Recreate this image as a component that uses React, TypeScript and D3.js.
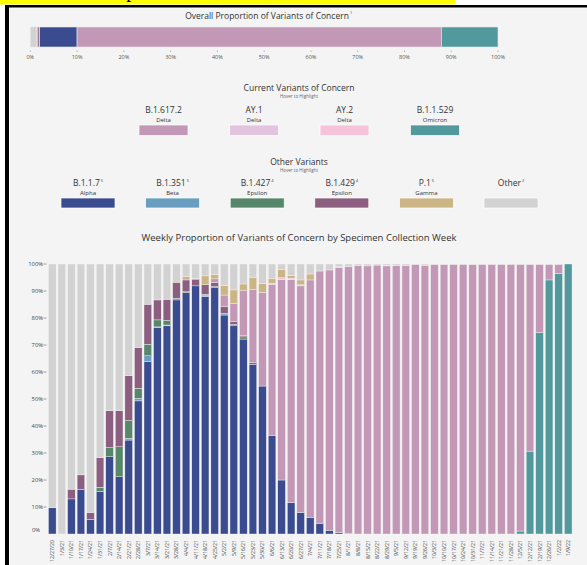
import React, { useEffect } from 'react'
import * as d3 from 'd3'

// weekly specimen collection weeks
const weeks = [
  '12/27/20', '1/3/21', '1/10/21', '1/17/21', '1/24/21', '1/31/21', '2/7/21', '2/14/21', '2/21/21', '2/28/21',
  '3/7/21', '3/14/21', '3/21/21', '3/28/21', '4/4/21', '4/11/21', '4/18/21', '4/25/21', '5/2/21', '5/9/21',
  '5/16/21', '5/23/21', '5/30/21', '6/6/21', '6/13/21', '6/20/21', '6/27/21', '7/4/21', '7/11/21', '7/18/21',
  '7/25/21', '8/1/21', '8/8/21', '8/15/21', '8/22/21', '8/29/21', '9/5/21', '9/12/21', '9/19/21', '9/26/21',
  '10/3/21', '10/10/21', '10/17/21', '10/24/21', '10/31/21', '11/7/21', '11/14/21', '11/21/21', '11/28/21', '12/5/21',
  '12/12/21', '12/19/21', '12/26/21', '1/2/22', '1/9/22'
]

const pad = (arr: number[]) => arr.concat(new Array(weeks.length - arr.length).fill(0))

const omicron = [
  0, 0, 0, 0, 0, 0, 0, 0, 0, 0, 0, 0, 0, 0, 0, 0, 0, 0, 0, 0,
  0, 0, 0, 0, 0, 0, 0, 0, 0, 0, 0, 0, 0, 0, 0, 0, 0, 0, 0, 0,
  0, 0, 0, 0, 0, 0, 0, 0, 0, 1.1, 30.7, 74.6, 94.1, 96.5, 100
]
const alpha = pad([
  9.7, 0, 13, 16.6, 5.4, 15.7, 28.6, 21.2, 34.8, 49.3, 63.8, 76.4, 77.1, 86.7, 89.4, 91.9, 87.9, 91.2, 81.1, 77.1,
  72.2, 62.8, 54.8, 36.4, 20, 11.6, 8, 6.2, 4, 1.4, 0.5, 0.2
])
const beta = pad([0, 0, 0, 0, 0, 0, 0, 0, 0.6, 0.9, 2.2, 0.3, 0.3, 0, 0, 0, 0.4, 0, 0.6])
const eps427 = pad([0, 0, 0, 0, 0, 1.6, 3.4, 11.1, 6.6, 3.8, 4.3, 2.6, 1.7, 0.6, 0.3, 0, 0.5, 0.4, 0, 0.5, 0.8])
const eps429 = pad([0, 0, 3.6, 5.3, 2.6, 11, 13.7, 13.4, 16.6, 15.1, 14.8, 7.4, 7.8, 5.8, 4.4, 2.5, 3.5, 1.6, 2.5, 1.0, 0.4, 0.8])
const delta = [
  0, 0, 0, 0, 0, 0, 0, 0, 0, 0, 0, 0, 0, 0, 0, 0, 0, 1.3, 4.3, 6.8,
  16.7, 27, 34.7, 56.1, 74.3, 82.7, 83.9, 87.9, 93.4, 96.4, 98.1, 98.8, 99.4, 99.3, 99.6, 99.3, 99.4, 99.4, 99.9, 99.5,
  99.8, 99.8, 99.9, 99.9, 99.8, 99.9, 99.9, 99.9, 99.9, 98.8, 69.2, 25.3, 5.8, 3.4, 0
]
const ay1 = pad([])
const ay2 = pad([
  0, 0, 0, 0, 0, 0, 0, 0, 0, 0, 0, 0, 0, 0, 0, 0, 0, 0, 0, 0,
  0, 0, 0, 0.3, 0.6, 0.4, 0.4, 0, 0, 0, 0.4, 0, 0, 0, 0, 0.2
])
const gamma = pad([
  0, 0, 0, 0, 0, 0, 0, 0, 0, 0, 0, 0, 0, 0.6, 1.2, 0.3, 3.3, 1.5, 3.5, 5.0,
  2.5, 4.3, 3.3, 1.9, 3.1, 1.0, 1.8, 2.2, 0, 0, 0, 0, 0, 0, 0, 0, 0, 0, 0, 0.1,
  0, 0, 0, 0, 0.1
])
const other = [
  90.3, 100, 83.4, 78.1, 92, 71.7, 54.3, 54.3, 41.4, 30.9, 14.9, 13.3, 13.1, 6.3, 4.7, 5.3, 4.4, 4.0, 8.0, 9.6,
  7.4, 5.1, 7.2, 5.3, 2.0, 4.3, 5.9, 3.7, 2.6, 2.2, 1.0, 1.0, 0.6, 0.7, 0.4, 0.5, 0.6, 0.6, 0.1, 0.4,
  0.2, 0.2, 0.1, 0.1, 0.1, 0.1, 0.1, 0.1, 0.1, 0.1, 0.1, 0.1, 0.1, 0.1, 0
]

// overall proportions (top bar, left to right)
const overallKeys = ['other', 'gamma', 'eps429', 'eps427', 'alpha', 'delta', 'omicron']
const overallValues = [1.4, 0.1, 0.4, 0.1, 8.0, 77.9, 12.1]
const overallTicks = [0, 10, 20, 30, 40, 50, 60, 70, 80, 90, 100]

const stackKeys = ['omicron', 'alpha', 'beta', 'eps427', 'eps429', 'delta', 'ay1', 'ay2', 'gamma', 'other']
const series: Record<string, number[]> = { omicron, alpha, beta, eps427, eps429, delta, ay1, ay2, gamma, other }

const colors: Record<string, string> = {
  omicron: '#51999d',
  alpha: '#3a4c8f',
  beta: '#6a9ec1',
  eps427: '#56876a',
  eps429: '#8c5f80',
  delta: '#c397b6',
  ay1: '#e3c3dd',
  ay2: '#f7c3da',
  gamma: '#cbb585',
  other: '#d2d2d2'
}

const currentKeys = ['delta', 'ay1', 'ay2', 'omicron']
const currentLabels = ['B.1.617.2', 'AY.1', 'AY.2', 'B.1.1.529']
const currentNames = ['Delta', 'Delta', 'Delta', 'Omicron']

const otherKeys = ['alpha', 'beta', 'eps427', 'eps429', 'gamma', 'other']
const otherLabels = ['B.1.1.7', 'B.1.351', 'B.1.427', 'B.1.429', 'P.1', 'Other']
const otherNames = ['Alpha', 'Beta', 'Epsilon', 'Epsilon', 'Gamma', '']
const otherNotes = ['5', '5', '4', '4', '5', '2']

const yTicks = [0, 10, 20, 30, 40, 50, 60, 70, 80, 90, 100]

const W = 587
const H = 565
const font = "'Open Sans', sans-serif"

export default function App() {
  useEffect(() => {
    document.body.style.margin = '0'
  }, [])

  // top bar
  const ox = d3.scaleLinear().domain([0, 100]).range([30.3, 498])
  let acc = 0
  const overallSegs = overallKeys.map((k, i) => {
    const s = { key: k, x0: acc, x1: acc + overallValues[i] }
    acc += overallValues[i]
    return s
  })

  // weekly chart
  const x = d3.scaleBand<string>().domain(weeks).range([47.5, 573]).paddingInner(0.2).paddingOuter(0.1)
  const y = d3.scaleLinear().domain([0, 100]).range([534, 264])
  const rows = weeks.map((w, i) => {
    const r: any = { week: w }
    stackKeys.forEach(k => { r[k] = series[k][i] })
    return r
  })
  const stacked = d3.stack<any>().keys(stackKeys)(rows)

  const curX = d3.scalePoint<string>().domain(currentLabels).range([163.5, 435])
  const othX = d3.scalePoint<string>().domain(otherLabels).range([88, 511])

  const txt = '#333'

  return (
    <svg width={W} height={H} style={{ display: 'block', fontFamily: font }}>
      <rect x={0} y={0} width={W} height={H} fill="#fff" />
      <rect x={0} y={0} width={455} height={4.5} fill="#ffff00" />
      <text x={126} y={-3} fontFamily="'Liberation Serif', serif" fontSize={22} fill="#000">p</text>
      <rect x={5} y={5} width={W} height={H} fill="#000" />
      <rect x={9} y={7.5} width={W} height={H} fill="#fafafa" />
      <rect x={10} y={8.5} width={W} height={H} fill="#f4f4f4" />

      {/* overall proportion */}
      <text x={267} y={19} textAnchor="middle" fontSize={8.5} fill={txt}>Overall Proportion of Variants of Concern</text>
      <text x={350} y={14} fontSize={4} fill={txt}>1</text>
      <g>
        {overallSegs.map(s => (
          <rect key={s.key} x={ox(s.x0)} y={27} width={ox(s.x1) - ox(s.x0)} height={20}
            fill={colors[s.key]} stroke="#e8e8e8" strokeWidth={0.6} />
        ))}
        {overallTicks.map(t => (
          <g key={t} transform={`translate(${ox(t)},0)`}>
            <line y1={50.5} y2={52} stroke="#888" strokeWidth={0.6} />
            <text y={58.5} textAnchor="middle" fontSize={5.5} fill="#555">{t}%</text>
          </g>
        ))}
      </g>

      {/* current variants legend */}
      <text x={299} y={91} textAnchor="middle" fontSize={8.5} fill={txt}>Current Variants of Concern</text>
      <text x={299} y={98} textAnchor="middle" fontSize={4.5} fill="#666">Hover to Highlight</text>
      {currentLabels.map((l, i) => (
        <g key={l} transform={`translate(${curX(l)},0)`}>
          <text y={113} textAnchor="middle" fontSize={8.5} fill={txt}>{l}</text>
          <text y={122} textAnchor="middle" fontSize={6} fill={txt}>{currentNames[i]}</text>
          <rect x={-24.5} y={125} width={49} height={10.5} fill={colors[currentKeys[i]]} stroke="#fff" strokeWidth={0.7} />
        </g>
      ))}

      {/* other variants legend */}
      <text x={299} y={165} textAnchor="middle" fontSize={8.5} fill={txt}>Other Variants</text>
      <text x={299} y={171.5} textAnchor="middle" fontSize={4.5} fill="#666">Hover to Highlight</text>
      {otherLabels.map((l, i) => (
        <g key={l} transform={`translate(${othX(l)},0)`}>
          <text y={186} textAnchor="middle" fontSize={8.5} fill={txt}>
            {l}
            <tspan fontSize={4} dy={-4.5} dx={1}>{otherNotes[i]}</tspan>
          </text>
          <text y={195} textAnchor="middle" fontSize={6} fill={txt}>{otherNames[i]}</text>
          <rect x={-27} y={198} width={54} height={10} fill={colors[otherKeys[i]]} stroke="#fff" strokeWidth={0.7} />
        </g>
      ))}

      {/* weekly chart */}
      <text x={299} y={241} textAnchor="middle" fontSize={9.5} fill={txt}>Weekly Proportion of Variants of Concern by Specimen Collection Week</text>
      <g>
        {yTicks.map(t => (
          <g key={t} transform={`translate(0,${t === 0 ? y(t) - 3.5 : y(t)})`}>
            {t === 0 ? null : <line x1={43.5} x2={46.5} stroke="#666" strokeWidth={0.6} />}
            <text x={t === 0 ? 40 : 43} dy="0.32em" textAnchor="end" fontSize={5.8} fill="#444">{t}%</text>
          </g>
        ))}
      </g>
      <g>
        {stacked.map(s => (
          <g key={s.key} fill={colors[s.key]}>
            {s.map((d, i) => (
              d[1] - d[0] > 0 ? (
                <rect key={i} x={x(weeks[i])} y={y(d[1])} width={x.bandwidth()} height={y(d[0]) - y(d[1])}
                  stroke="#f4f4f4" strokeWidth={0.4} />
              ) : null
            ))}
          </g>
        ))}
      </g>
      <g>
        {weeks.map(w => (
          <text key={w} transform={`translate(${(x(w) as number) + x.bandwidth() / 2 + 2},540) rotate(-90)`}
            textAnchor="end" fontSize={5.3} fill="#444">{w}</text>
        ))}
      </g>
    </svg>
  )
}
